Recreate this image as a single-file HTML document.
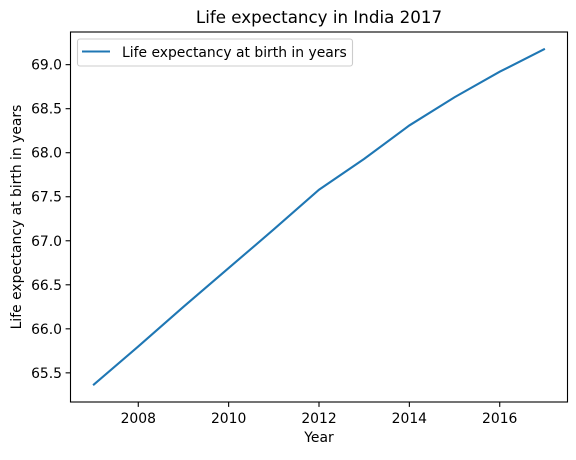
<!DOCTYPE html>
<html><head><meta charset="utf-8"><style>
body{margin:0;background:#fff}
svg text{font-family:"DejaVu Sans","Liberation Sans",sans-serif;fill:#000}
</style></head><body>
<svg id="c" width="576" height="455" xmlns="http://www.w3.org/2000/svg"></svg>
<script>
const years=[2007,2008,2009,2010,2011,2012,2013,2014,2015,2016,2017];
const lifeExp=[65.36,65.80,66.25,66.69,67.13,67.58,67.93,68.31,68.63,68.92,69.18];
const xTicks=[2008,2010,2012,2014,2016];
const yTicks=[65.5,66.0,66.5,67.0,67.5,68.0,68.5,69.0];
const L=70.5,R=567.5,T=32,B=402;
const svg=document.getElementById('c');
const NS='http://www.w3.org/2000/svg';
function mk(t,a,txt){const e=document.createElementNS(NS,t);for(const k in a)e.setAttribute(k,a[k]);if(txt!==undefined)e.textContent=txt;svg.appendChild(e);return e;}
const xmin=Math.min(...years),xmax=Math.max(...years),xm=(xmax-xmin)*0.05;
const ymin=Math.min(...lifeExp),ymax=Math.max(...lifeExp),ym=(ymax-ymin)*0.05;
const xs=v=>L+(v-(xmin-xm))/((xmax+xm)-(xmin-xm))*(R-L);
const ys=v=>B-(v-(ymin-ym))/((ymax+ym)-(ymin-ym))*(B-T);
let e=mk('text',{x:(L+R)/2,y:23,'text-anchor':'middle','font-size':'16.7px'},'Life expectancy in India 2017');

xTicks.forEach(t=>{const x=xs(t);
 let l=mk('line',{x1:x,x2:x,y1:B,y2:B+4.9,stroke:'#000','stroke-width':1.1});
 
 let s=mk('text',{x:x,y:B+21,'text-anchor':'middle','font-size':'13.9px'},String(t));
 });
yTicks.forEach(t=>{const y=ys(t);
 let l=mk('line',{x1:L-4.9,x2:L,y1:y,y2:y,stroke:'#000','stroke-width':1.1});
 
 let s=mk('text',{x:L-8.5,y:y+5,'text-anchor':'end','font-size':'13.9px'},t.toFixed(1));
 });
e=mk('text',{x:(L+R)/2,y:442,'text-anchor':'middle','font-size':'13.9px'},'Year');

e=mk('text',{x:0,y:0,'text-anchor':'middle','font-size':'13.9px',transform:`translate(21,${(T+B)/2}) rotate(-90)`},'Life expectancy at birth in years');

e=mk('polyline',{points:years.map((y,i)=>xs(y)+','+ys(lifeExp[i])).join(' '),fill:'none',stroke:'#1f77b4','stroke-width':2.1});

e=mk('rect',{x:L,y:T,width:R-L,height:B-T,fill:'none',stroke:'#000','stroke-width':1.1});

e=mk('rect',{x:77.5,y:39,width:275,height:27,rx:2.5,fill:'#fff','fill-opacity':0.8,stroke:'#ccc','stroke-width':1.1});

e=mk('line',{x1:82,x2:110,y1:51.5,y2:51.5,stroke:'#1f77b4','stroke-width':2.1});

e=mk('text',{x:122,y:57,'font-size':'13.9px'},'Life expectancy at birth in years');

</script>
</body></html>
